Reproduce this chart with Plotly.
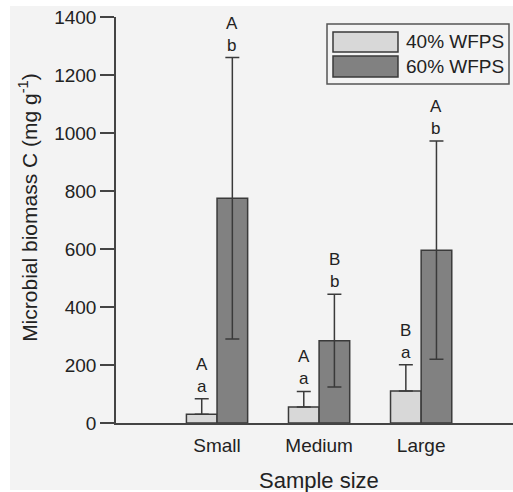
import plotly.graph_objects as go

# Microbial biomass C by aggregate sample size and moisture level
sizes = ["Small", "Medium", "Large"]
wfps40_mean = [30, 55, 110]
wfps40_err = [54, 54, 91]
wfps60_mean = [775, 284, 596]
wfps60_err = [485, 160, 376]
wfps40_letters = ["A<br>a", "A<br>a", "B<br>a"]
wfps60_letters = ["A<br>b", "B<br>b", "A<br>b"]
series_names = ["40% WFPS", "60% WFPS"]

FONT = "Liberation Sans, Arial, Helvetica, sans-serif"
INK = "#222222"
EDGE = "#3a3a3a"
LIGHT = "#d8d8d8"
DARK = "#818181"
BG = "#f3f3f3"
BAR_W = 0.3

x_idx = list(range(len(sizes)))

fig = go.Figure()
# 40% bars show only the upper error whisker; 60% bars show both
for name, means, errs, color, off, two_sided in [
    (series_names[0], wfps40_mean, wfps40_err, LIGHT, -BAR_W / 2, False),
    (series_names[1], wfps60_mean, wfps60_err, DARK, BAR_W / 2, True),
]:
    fig.add_trace(go.Bar(
        x=[i + off for i in x_idx], y=means, width=BAR_W, name=name,
        marker=dict(color=color, line=dict(color=EDGE, width=1.5)),
        error_y=dict(type="data", array=errs,
                     arrayminus=errs if two_sided else [0] * len(errs),
                     visible=True, symmetric=False,
                     color=EDGE, thickness=1.5, width=7),
        showlegend=False,
    ))

# significance letters above each error bar
annotations = []
for letters, means, errs, off in [
    (wfps40_letters, wfps40_mean, wfps40_err, -BAR_W / 2),
    (wfps60_letters, wfps60_mean, wfps60_err, BAR_W / 2),
]:
    for i, (lab, m, e) in enumerate(zip(letters, means, errs)):
        annotations.append(dict(
            x=i + off, y=m + e, xref="x", yref="y", text=lab, showarrow=False,
            xanchor="center", yanchor="bottom", yshift=1, align="center",
            font=dict(family=FONT, size=17, color=INK)))

# axis titles
annotations.append(dict(
    x=0.511, y=-0.142, xref="paper", yref="paper", text="Sample size",
    xanchor="center", yanchor="middle", showarrow=False,
    font=dict(family=FONT, size=22, color=INK)))
annotations.append(dict(
    x=-0.222, y=0.532, xref="paper", yref="paper", textangle=-90,
    xanchor="center", yanchor="middle",
    text="Microbial biomass C (mg g<sup>-1</sup>)", showarrow=False,
    font=dict(family=FONT, size=21, color=INK)))

# legend box with wide swatches
shapes = [
    dict(type="rect", xref="paper", yref="paper", x0=-0.267, x1=1.05, y0=-0.165, y1=1.027,
         fillcolor=BG, line=dict(width=0), layer="below"),
    dict(type="rect", xref="paper", yref="paper", x0=0.5315, x1=0.9899, y0=0.835, y1=0.983,
         fillcolor=BG, line=dict(color="#555555", width=1.5)),
]
legend_rows = [(series_names[0], LIGHT, 0.914, 0.963), (series_names[1], DARK, 0.852, 0.904)]
for name, color, y0, y1 in legend_rows:
    shapes.append(dict(type="rect", xref="paper", yref="paper", x0=0.5466, x1=0.7103,
                       y0=y0, y1=y1, fillcolor=color, line=dict(color=EDGE, width=1.5)))
    annotations.append(dict(x=0.7254, y=(y0 + y1) / 2, xref="paper", yref="paper",
                            text=name, showarrow=False, xanchor="left", yanchor="middle",
                            font=dict(family=FONT, size=19, color=INK)))

fig.update_layout(
    width=513, height=492,
    margin=dict(l=116, r=0, t=17, b=69),
    paper_bgcolor="white", plot_bgcolor=BG,
    font=dict(family=FONT, size=19, color=INK),
    barmode="overlay",
    shapes=shapes, annotations=annotations,
    xaxis=dict(range=[-0.99, 2.9], tickmode="array", tickvals=x_idx, ticktext=sizes,
               showline=True, linecolor="#444444", linewidth=1.5, ticks="",
               ticklabelstandoff=4, showgrid=False, zeroline=False,
               tickfont=dict(family=FONT, size=19, color=INK)),
    yaxis=dict(range=[0, 1400], dtick=200, showline=True, linecolor="#444444",
               linewidth=1.5, ticks="outside", ticklen=14, tickwidth=1.5,
               tickcolor="#444444", showgrid=False, zeroline=False,
               tickfont=dict(family=FONT, size=19, color=INK)),
)

fig.write_html("out.html")
